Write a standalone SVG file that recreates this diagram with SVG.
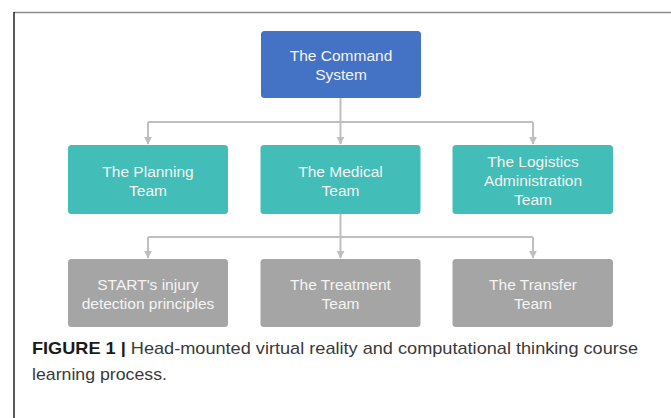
<svg xmlns="http://www.w3.org/2000/svg" width="671" height="418" viewBox="0 0 671 418">
  <defs>
    <style>
      .box { stroke: none; }
      .blue { fill: #4472C4; }
      .teal { fill: #43BDB7; }
      .gray { fill: #A5A5A5; }
      .lbl { font-family: "Liberation Sans", Arial, sans-serif; font-size: 15.5px; fill: #F4F4F4; text-anchor: middle; }
      .conn { fill: none; stroke: #BFBFBF; stroke-width: 2; }
      .cap { font-family: "Liberation Sans", Arial, sans-serif; font-size: 17px; fill: #3A3A3A; }
    </style>
    <marker id="arr" viewBox="0 0 10 10" refX="9" refY="5" markerWidth="4" markerHeight="4" orient="auto" markerUnits="strokeWidth">
      <path d="M0,0 L10,5 L0,10 z" fill="#BFBFBF"/>
    </marker>
  </defs>
  <rect width="671" height="418" fill="#FFFFFF"/>
  <g id="frame">
    <line x1="14" y1="12.5" x2="671" y2="12.5" stroke="#8A8A8A" stroke-width="1.5"/>
    <line x1="14" y1="12" x2="14" y2="418" stroke="#222222" stroke-width="1.5"/>
  </g>
  <g id="connectors">
    <path class="conn" d="M340.5,98 V122"/>
    <path class="conn" d="M148,122 H533"/>
    <path class="conn" d="M148,122 V144" marker-end="url(#arr)"/>
    <path class="conn" d="M340.5,122 V144" marker-end="url(#arr)"/>
    <path class="conn" d="M533,122 V144" marker-end="url(#arr)"/>
    <path class="conn" d="M340.5,214 V237"/>
    <path class="conn" d="M148,237 H533"/>
    <path class="conn" d="M148,237 V258" marker-end="url(#arr)"/>
    <path class="conn" d="M340.5,237 V258" marker-end="url(#arr)"/>
    <path class="conn" d="M533,237 V258" marker-end="url(#arr)"/>
  </g>
  <g id="command">
    <rect class="box blue" x="261" y="31" width="160" height="67" rx="3.5"/>
    <text class="lbl" x="341" y="61">The Command</text>
    <text class="lbl" x="341" y="80">System</text>
  </g>
  <g id="planning">
    <rect class="box teal" x="68" y="145" width="160" height="69" rx="3.5"/>
    <text class="lbl" x="148" y="177">The Planning</text>
    <text class="lbl" x="148" y="196">Team</text>
  </g>
  <g id="medical">
    <rect class="box teal" x="260.5" y="145" width="160" height="69" rx="3.5"/>
    <text class="lbl" x="340.5" y="177">The Medical</text>
    <text class="lbl" x="340.5" y="196">Team</text>
  </g>
  <g id="logistics">
    <rect class="box teal" x="452.5" y="145" width="160.5" height="69" rx="3.5"/>
    <text class="lbl" x="533" y="167">The Logistics</text>
    <text class="lbl" x="533" y="186">Administration</text>
    <text class="lbl" x="533" y="205">Team</text>
  </g>
  <g id="start">
    <rect class="box gray" x="68" y="259" width="160" height="68" rx="3.5"/>
    <text class="lbl" x="148" y="290">START's injury</text>
    <text class="lbl" x="148" y="309">detection principles</text>
  </g>
  <g id="treatment">
    <rect class="box gray" x="260.5" y="259" width="160" height="68" rx="3.5"/>
    <text class="lbl" x="340.5" y="290">The Treatment</text>
    <text class="lbl" x="340.5" y="309">Team</text>
  </g>
  <g id="transfer">
    <rect class="box gray" x="452.5" y="259" width="160.5" height="68" rx="3.5"/>
    <text class="lbl" x="533" y="290">The Transfer</text>
    <text class="lbl" x="533" y="309">Team</text>
  </g>
  <g id="caption">
    <text class="cap" x="32" y="354" textLength="606" lengthAdjust="spacingAndGlyphs"><tspan font-weight="bold" fill="#1A1A1A">FIGURE 1 |</tspan> Head-mounted virtual reality and computational thinking course</text>
    <text class="cap" x="32" y="380" textLength="135" lengthAdjust="spacingAndGlyphs">learning process.</text>
  </g>
</svg>
